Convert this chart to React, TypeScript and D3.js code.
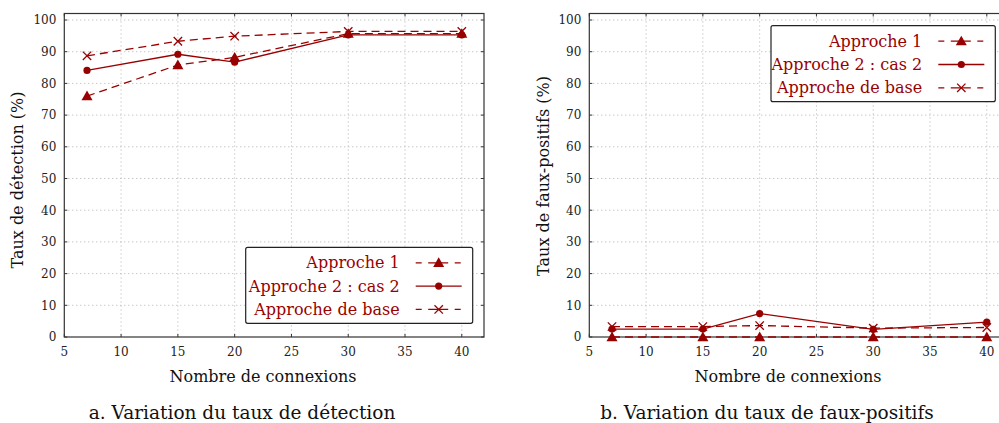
import React from "react";
import * as d3 from "d3";

const connexions = [7, 15, 20, 30, 40];
const xTicks = [5, 10, 15, 20, 25, 30, 35, 40];
const yTicks = [0, 10, 20, 30, 40, 50, 60, 70, 80, 90, 100];

const detApproche1 = [76, 85.8, 88.2, 95.7, 95.7];
const detApproche2 = [84.1, 89.2, 86.7, 95.3, 95.3];
const detBase = [88.7, 93.3, 94.9, 96.4, 96.4];

const fpApproche1 = [0, 0, 0, 0, 0];
const fpApproche2 = [2.5, 2.5, 7.4, 2.4, 4.7];
const fpBase = [3.3, 3.3, 3.6, 2.8, 3.0];

const seriesNames = ["Approche 1", "Approche 2 : cas 2", "Approche de base"];

const RED = "#990000";
const FONT = "DejaVu Serif";

type Marker = "tri" | "dot" | "cross";
const markers: Marker[] = ["tri", "dot", "cross"];
const dashes = ["8,5", undefined, "8,5"];

function MarkerShape({ kind, x, y }: { kind: Marker; x: number; y: number }) {
  if (kind === "tri") {
    const s = 5.5;
    return (
      <path
        d={`M${x},${y - s} L${x + s},${y + s * 0.75} L${x - s},${y + s * 0.75} Z`}
        fill={RED}
      />
    );
  }
  if (kind === "dot") return <circle cx={x} cy={y} r={3.6} fill={RED} />;
  const s = 4.2;
  return (
    <path
      d={`M${x - s},${y - s} L${x + s},${y + s} M${x - s},${y + s} L${x + s},${y - s}`}
      stroke={RED}
      strokeWidth={1.3}
      fill="none"
    />
  );
}

interface PanelProps {
  left: number;
  right: number;
  series: number[][];
  yLabel: string;
  caption: string;
  legendX: number;
  legendY: number;
  legendW: number;
  yLabelX: number;
  yLabelCy: number;
}

function Panel({ left, right, series, yLabel, caption, legendX, legendY, legendW, yLabelX, yLabelCy }: PanelProps) {
  const top = 13.5;
  const bottom = 337;
  const x = d3.scaleLinear().domain([5, 40]).range([left, left + 397.5]);
  const y = d3.scaleLinear().domain([0, 100]).range([bottom, 20]);
  const line = d3
    .line<[number, number]>()
    .x((d) => x(d[0]))
    .y((d) => y(d[1]));
  const plotCenter = (left + x(40)) / 2;
  const legendH = 76;
  const rowH = 23.3;
  const textRight = legendX + legendW - 73;
  const symCx = legendX + legendW - 34;
  return (
    <g>
      {/* grid */}
      {yTicks
        .filter((t) => t > 0)
        .map((t) => (
          <line
            key={"gy" + t}
            x1={left}
            x2={right}
            y1={y(t)}
            y2={y(t)}
            stroke="#b0b0b0"
            strokeWidth={1}
            strokeDasharray="1,3"
          />
        ))}
      {xTicks
        .filter((t) => t > 5)
        .map((t) => (
          <line
            key={"gx" + t}
            x1={x(t)}
            x2={x(t)}
            y1={top}
            y2={bottom}
            stroke="#b0b0b0"
            strokeWidth={1}
            strokeDasharray="1,3"
          />
        ))}
      {/* tick marks */}
      {xTicks.map((t) => (
        <g key={"tx" + t}>
          <line x1={x(t)} x2={x(t)} y1={bottom} y2={bottom - 3} stroke="#333" />
          <line x1={x(t)} x2={x(t)} y1={top} y2={top + 3} stroke="#333" />
        </g>
      ))}
      {yTicks.map((t) => (
        <g key={"ty" + t}>
          <line x1={left} x2={left + 3} y1={y(t)} y2={y(t)} stroke="#333" />
          <line x1={right} x2={right - 3} y1={y(t)} y2={y(t)} stroke="#333" />
        </g>
      ))}
      {/* frame */}
      <rect x={left} y={top} width={right - left} height={bottom - top} fill="none" stroke="#333" strokeWidth={1.2} />
      {/* tick labels */}
      {xTicks.map((t) => (
        <text key={"lx" + t} x={x(t)} y={356} textAnchor="middle" fontFamily={FONT} fontSize={12} fill="#222">
          {t}
        </text>
      ))}
      {yTicks.map((t) => (
        <text key={"ly" + t} x={left - 8} y={y(t) + 4.3} textAnchor="end" fontFamily={FONT} fontSize={12} fill="#222">
          {t}
        </text>
      ))}
      {/* series */}
      {series.map((vals, i) => {
        const pts: [number, number][] = connexions.map((c, j) => [c, vals[j]]);
        return (
          <g key={"s" + i}>
            <path d={line(pts) || ""} fill="none" stroke={RED} strokeWidth={1.3} strokeDasharray={dashes[i]} />
            {pts.map((p, j) => (
              <MarkerShape key={j} kind={markers[i]} x={x(p[0])} y={y(p[1])} />
            ))}
          </g>
        );
      })}
      {/* legend */}
      <rect x={legendX} y={legendY} width={legendW} height={legendH} rx={2} fill="white" stroke="#222" strokeWidth={1.2} />
      {seriesNames.map((n, i) => {
        const cy = legendY + 15.5 + i * rowH;
        return (
          <g key={"lg" + i}>
            <text x={textRight} y={cy + 5.5} textAnchor="end" fontFamily={FONT} fontSize={16} fill={RED}>
              {n}
            </text>
            <line
              x1={symCx - 23}
              x2={symCx + 23}
              y1={cy}
              y2={cy}
              stroke={RED}
              strokeWidth={1.3}
              strokeDasharray={dashes[i] ? "6,6.5,20,6.5,6" : undefined}
            />
            <MarkerShape kind={markers[i]} x={symCx} y={cy} />
          </g>
        );
      })}
      {/* axis titles */}
      <text x={plotCenter} y={382} textAnchor="middle" fontFamily={FONT} fontSize={16} fill="#111">
        Nombre de connexions
      </text>
      <text
        transform={`translate(${yLabelX},${yLabelCy}) rotate(-90)`}
        textAnchor="middle"
        fontFamily={FONT}
        fontSize={16}
        fill="#111"
      >
        {yLabel}
      </text>
      <text x={plotCenter - 21} y={419} textAnchor="middle" fontFamily={FONT} fontSize={18.5} fill="#111">
        {caption}
      </text>
    </g>
  );
}

export default function App() {
  return (
    <svg width={999} height={423} style={{ position: "absolute", left: 0, top: 0, background: "white" }}>
      <Panel
        left={64.3}
        right={484}
        series={[detApproche1, detApproche2, detBase]}
        yLabel="Taux de détection (%)"
        caption="a. Variation du taux de détection"
        legendX={245.7}
        legendY={247.3}
        legendW={227}
        yLabelX={23}
        yLabelCy={180}
      />
      <Panel
        left={589.3}
        right={1008}
        series={[fpApproche1, fpApproche2, fpBase]}
        yLabel="Taux de faux-positifs (%)"
        caption="b. Variation du taux de faux-positifs"
        legendX={771}
        legendY={25.7}
        legendW={224.3}
        yLabelX={549}
        yLabelCy={176}
      />
    </svg>
  );
}
